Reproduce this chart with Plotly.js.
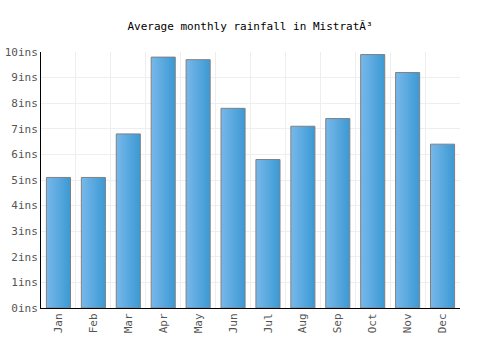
<!DOCTYPE html>
<html><head><meta charset="utf-8">
<script src="https://cdn.plot.ly/plotly-3.0.1.min.js"></script>
<style>body{margin:0;background:#fff}</style>
</head><body><div id="chart" style="width:500px;height:350px"></div>
<script>
const months = ["Jan","Feb","Mar","Apr","May","Jun","Jul","Aug","Sep","Oct","Nov","Dec"];
const rainfall = [5.1,5.1,6.8,9.8,9.7,7.8,5.8,7.1,7.4,9.9,9.2,6.4];
const yTicks = [0,1,2,3,4,5,6,7,8,9,10];
const titleText = "Average monthly rainfall in MistratÃ³";

const font = "DejaVu Sans Mono, monospace";
Plotly.newPlot("chart", [{
  type: "bar", x: months, y: rainfall,
  marker: {color: "#4fa3dc", line: {color: "#808080", width: 1}},
  hoverinfo: "none"
}], {
  width: 500, height: 350,
  margin: {l: 41, r: 40, t: 52, b: 42},
  title: {text: titleText, x: 0.5, y: 0.925, yanchor: "middle", font: {family: font, size: 11, color: "#000"}},
  bargap: 0.31,
  plot_bgcolor: "#fff", paper_bgcolor: "#fff",
  xaxis: {tickson: "boundaries", showgrid: true, gridcolor: "#eeeeee", ticks: "", tickangle: -90,
    showline: true, linecolor: "#000", linewidth: 1, tickfont: {family: font, size: 11, color: "#555"}},
  yaxis: {range: [0, 10], tickvals: yTicks, ticktext: yTicks.map(v => v + "ins"), gridcolor: "#eeeeee",
    showline: true, linecolor: "#000", linewidth: 1, zeroline: false, ticks: "",
    tickfont: {family: font, size: 11, color: "#555"}}
}, {displayModeBar: false, staticPlot: true}).then(gd => {
  const svg = gd.querySelector("svg.main-svg");
  const ns = "http://www.w3.org/2000/svg";
  let defs = svg.querySelector("defs");
  const g = document.createElementNS(ns, "linearGradient");
  g.setAttribute("id", "barGrad");
  g.setAttribute("x1", "0"); g.setAttribute("x2", "1"); g.setAttribute("y1", "0"); g.setAttribute("y2", "0");
  [["0", "#78b8ea"], ["1", "#3b99d4"]].forEach(([o, c]) => {
    const s = document.createElementNS(ns, "stop");
    s.setAttribute("offset", o); s.setAttribute("stop-color", c); g.appendChild(s);
  });
  defs.appendChild(g);
  gd.querySelectorAll(".bars .point path").forEach(p => { p.style.fill = "url(#barGrad)"; });
});
</script></body></html>
